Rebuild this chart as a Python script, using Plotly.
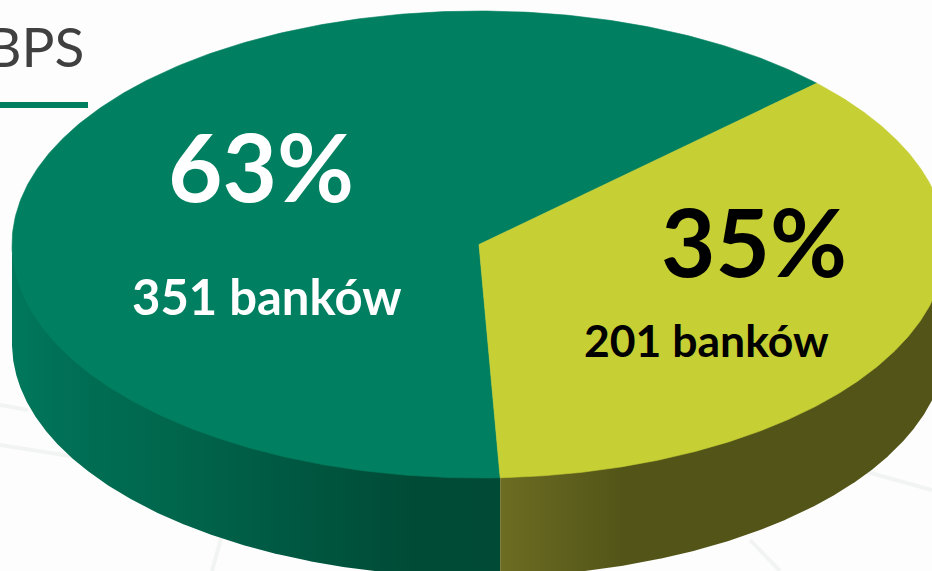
import numpy as np
import plotly.graph_objects as go

# --- data ---
categories = ["BPS green", "BPS yellow"]
banks = [351, 201]
percent_labels = ["63%", "35%"]
bank_labels = ["351 banków", "201 banków"]
title_text = "BPS"

# --- geometry / style ---
W, H = 932, 571
CX, CY, A, B, DEPTH = 479, 244.5, 467, 233.5, 99
START_DEG = -87.4
TOP = ["#008060", "#c6cf34"]
SIDE_SCALES = [
    [[0, "#00785b"], [0.10, "#007056"], [0.33, "#00664c"], [0.50, "#005c45"],
     [0.82, "#004b36"], [1, "#004a36"]],
    [[0, "#6c6c22"], [0.28, "#535518"], [1, "#535518"]],
]
SIDE_RANGE = [(12, 501), (502, 932)]

share = [v / sum(banks) for v in banks]
yellow_a0 = START_DEG
yellow_a1 = START_DEG + 360 * share[1]
green_a0 = yellow_a1
green_a1 = green_a0 + 360 * share[0]


def arc(a0, a1, dy=0, n=400):
    t = np.radians(np.linspace(a0, a1, n))
    return CX + A * np.cos(t), CY - B * np.sin(t) + dy


def wedge(a0, a1):
    x, y = arc(a0, a1)
    return np.r_[CX, x, CX], np.r_[CY, y, CY]


def side(a0, a1):
    # the upper edge is pulled a little under the top face so no seam shows
    x, y = arc(a0, a1, -4)
    xb, yb = arc(a0, a1, DEPTH)
    return np.r_[x, xb[::-1], x[0]], np.r_[y, yb[::-1], y[0]]


fig = go.Figure()

# extruded rim, visible only on the lower half of the ellipse
for (a0, a1), scale, (g0, g1) in zip(
    [(180, 360 + START_DEG), (START_DEG, 0)], SIDE_SCALES, SIDE_RANGE
):
    x, y = side(a0, a1)
    fig.add_trace(go.Scatter(
        x=x, y=y, mode="lines", line=dict(width=0), fill="toself",
        fillgradient=dict(type="horizontal", colorscale=scale, start=g0, stop=g1),
        hoverinfo="skip", showlegend=False,
    ))

# top faces
for (a0, a1), colour, name in zip(
    [(green_a0, green_a1), (yellow_a0, yellow_a1)], TOP, categories
):
    x, y = wedge(a0, a1)
    fig.add_trace(go.Scatter(
        x=x, y=y, mode="lines", line=dict(width=0.6, color=colour), fill="toself",
        fillcolor=colour, name=name, showlegend=False,
    ))

FONT = "Lato, Carlito, sans-serif"
annots = [
    dict(x=261, y=165, text=f"<b>{percent_labels[0]}</b>", font=dict(size=94, color="#ffffff", family=FONT)),
    dict(x=266, y=296, text=f"<b>{bank_labels[0]}</b>", font=dict(size=49, color="#ffffff", family=FONT)),
    dict(x=754, y=240, text=f"<b>{percent_labels[1]}</b>", font=dict(size=94, color="#000000", family=FONT)),
    dict(x=706, y=339, text=f"<b>{bank_labels[1]}</b>", font=dict(size=44.5, color="#000000", family=FONT)),
]
for a in annots:
    a.update(xref="x", yref="y", showarrow=False, xanchor="center", yanchor="middle")
annots.append(dict(
    x=86, y=46, xref="x", yref="y", text=title_text, showarrow=False,
    xanchor="right", yanchor="middle", font=dict(size=55, color="#404040", family=FONT),
))

faint = "rgba(205,215,210,0.22)"
shapes = [
    dict(type="rect", x0=0, x1=88, y0=102, y1=108, xref="x", yref="y",
         fillcolor="#008060", line=dict(width=0), layer="above"),
    dict(type="line", x0=0, y0=405, x1=28, y1=410, xref="x", yref="y",
         line=dict(color=faint, width=4), layer="below"),
    dict(type="line", x0=0, y0=445, x1=70, y1=456, xref="x", yref="y",
         line=dict(color=faint, width=4), layer="below"),
    dict(type="line", x0=222, y0=535, x1=212, y1=571, xref="x", yref="y",
         line=dict(color=faint, width=4), layer="below"),
    dict(type="line", x0=750, y0=540, x1=780, y1=571, xref="x", yref="y",
         line=dict(color=faint, width=4), layer="below"),
    dict(type="line", x0=860, y0=470, x1=932, y1=490, xref="x", yref="y",
         line=dict(color=faint, width=4), layer="below"),
]

fig.update_layout(
    width=W, height=H, margin=dict(l=0, r=0, t=0, b=0),
    paper_bgcolor="#fdfdfd", plot_bgcolor="#fdfdfd",
    xaxis=dict(range=[0, W], visible=False, fixedrange=True),
    yaxis=dict(range=[H, 0], visible=False, fixedrange=True),
    annotations=annots, shapes=shapes, showlegend=False,
)
fig.write_html("out.html", config={"displayModeBar": False},
               post_script="document.body.style.margin='0';")
